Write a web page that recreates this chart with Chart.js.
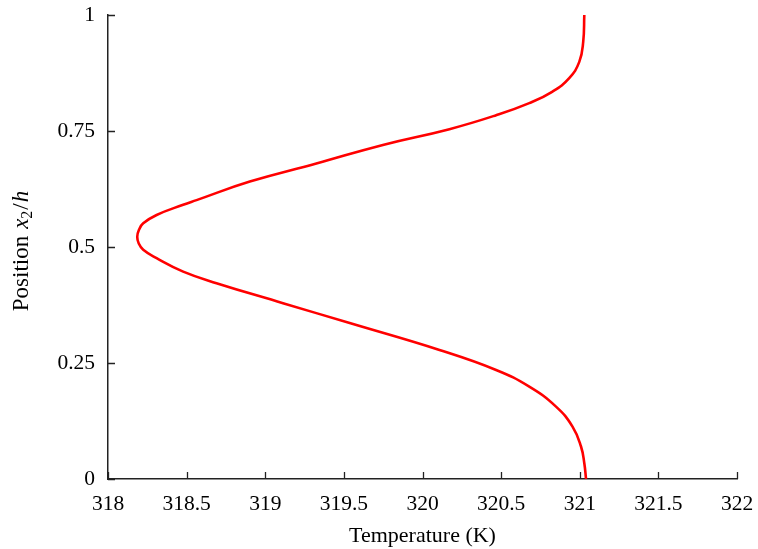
<!DOCTYPE html>
<html>
<head>
<meta charset="utf-8">
<script src="https://cdn.jsdelivr.net/npm/chart.js@4"></script>
<style>
  html, body { margin: 0; padding: 0; background: #fff; }
  #wrap { width: 758px; height: 549px; }
</style>
</head>
<body>
<div id="wrap"><canvas id="tempChart"></canvas></div>
<script>
/* ========= PROFILE DATA ========= */
// temperature (K) against normalised position x2/h, bottom wall to top wall
const tempK = [321.04, 321.029, 321.008, 320.954, 320.849, 320.679, 320.468, 320.108,
               319.537, 319.113, 318.69, 318.478, 318.309, 318.224, 318.195, 318.186,
               318.197, 318.224, 318.309, 318.478, 318.563, 318.902, 319.325, 319.748,
               320.171, 320.468, 320.679, 320.827, 320.933, 320.997, 321.022, 321.029];
const posY  = [0, 0.034, 0.07, 0.113, 0.156, 0.199, 0.235, 0.278,
               0.336, 0.379, 0.422, 0.447, 0.476, 0.494, 0.508, 0.522,
               0.537, 0.551, 0.569, 0.591, 0.601, 0.641, 0.68, 0.72,
               0.754, 0.784, 0.81, 0.835, 0.864, 0.899, 0.942, 1.0];

const xTicks = ["318", "318.5", "319", "319.5", "320", "320.5", "321", "321.5", "322"];
const yTicks = ["0", "0.25", "0.5", "0.75", "1"];

const SERIF = "'Liberation Serif', 'DejaVu Serif', serif";
const AXIS_COLOR = "#222";

/* ========= INWARD TICK MARKS ========= */
const inwardTicks = {
  id: "inwardTicks",
  afterDraw(chart) {
    const ctx = chart.ctx;
    const xs = chart.scales.x, ys = chart.scales.y;
    ctx.save();
    ctx.strokeStyle = AXIS_COLOR;
    ctx.lineWidth = 1.3;
    ctx.beginPath();
    xTicks.forEach(t => {
      const px = Math.round(xs.getPixelForValue(parseFloat(t))) + 0.5;
      ctx.moveTo(px, ys.bottom);
      ctx.lineTo(px, ys.bottom - 7);
    });
    yTicks.forEach(t => {
      const py = Math.round(ys.getPixelForValue(parseFloat(t))) + 0.5;
      ctx.moveTo(xs.left, py);
      ctx.lineTo(xs.left + 7, py);
    });
    ctx.stroke();
    ctx.restore();
  }
};

/* ========= Y TITLE: Position x_2/h ========= */
const yTitle = {
  id: "yTitle",
  afterDraw(chart) {
    const ctx = chart.ctx;
    const ys = chart.scales.y;
    const parts = [
      { t: "Position", font: "23px " + SERIF, dy: 0, gap: 7 },
      { t: "x", font: "italic 23px " + SERIF, dy: 0, gap: 0 },
      { t: "2", font: "16px " + SERIF, dy: 4, gap: 1 },
      { t: "/", font: "23px " + SERIF, dy: 0, gap: 1 },
      { t: "h", font: "italic 23px " + SERIF, dy: 0, gap: 0 }
    ];
    ctx.save();
    let total = 0;
    parts.forEach(p => { ctx.font = p.font; p.w = ctx.measureText(p.t).width; total += p.w + p.gap; });
    const cx = 28, cy = (ys.top + ys.bottom) / 2 + 4;
    ctx.translate(cx, cy);
    ctx.rotate(-Math.PI / 2);
    ctx.fillStyle = "#000";
    ctx.textBaseline = "alphabetic";
    let x = -total / 2;
    parts.forEach(p => {
      ctx.font = p.font;
      ctx.fillText(p.t, x, p.dy);
      x += p.w + p.gap;
    });
    ctx.restore();
  }
};

/* ========= CREATE CHART ========= */
function initChart() {
  new Chart(document.getElementById("tempChart"), {
    type: "scatter",
    data: {
      datasets: [{
        label: "Temperature",
        data: tempK.map((t, i) => ({ x: t, y: posY[i] })),
        showLine: true,
        borderColor: "#ff0000",
        borderWidth: 2.6,
        pointRadius: 0,
        tension: 0.45,
        fill: false
      }]
    },
    options: {
      responsive: true,
      maintainAspectRatio: false,
      animation: false,
      layout: { padding: { top: 15, right: 21, left: 0, bottom: 0 } },
      plugins: { legend: { display: false }, tooltip: { enabled: false } },
      scales: {
        x: {
          type: "linear",
          min: 318, max: 322,
          afterBuildTicks: s => { s.ticks = xTicks.map(v => ({ value: parseFloat(v) })); },
          afterFit: s => { s.height = 70; s.paddingLeft = 0; s.paddingRight = 0; },
          grid: { display: false, drawTicks: false },
          border: { display: true, color: AXIS_COLOR, width: 1.5 },
          ticks: {
            color: "#000",
            padding: 12,
            maxRotation: 0,
            font: { family: SERIF, size: 21.5 },
            callback: (v, i) => xTicks[i]
          },
          title: {
            display: true,
            text: "Temperature (K)",
            color: "#000",
            font: { family: SERIF, size: 22 },
            padding: { top: 0, bottom: 0 }
          }
        },
        y: {
          type: "linear",
          min: 0, max: 1,
          afterBuildTicks: s => { s.ticks = yTicks.map(v => ({ value: parseFloat(v) })); },
          afterFit: s => { s.width = 108; s.paddingTop = 0; s.paddingBottom = 0; },
          grid: { display: false, drawTicks: false },
          border: { display: true, color: AXIS_COLOR, width: 1.5 },
          ticks: {
            color: "#000",
            padding: 13,
            font: { family: SERIF, size: 21.5 },
            callback: (v, i) => yTicks[i]
          }
        }
      }
    },
    plugins: [inwardTicks, yTitle]
  });
}

document.addEventListener("DOMContentLoaded", initChart);
</script>
</body>
</html>
